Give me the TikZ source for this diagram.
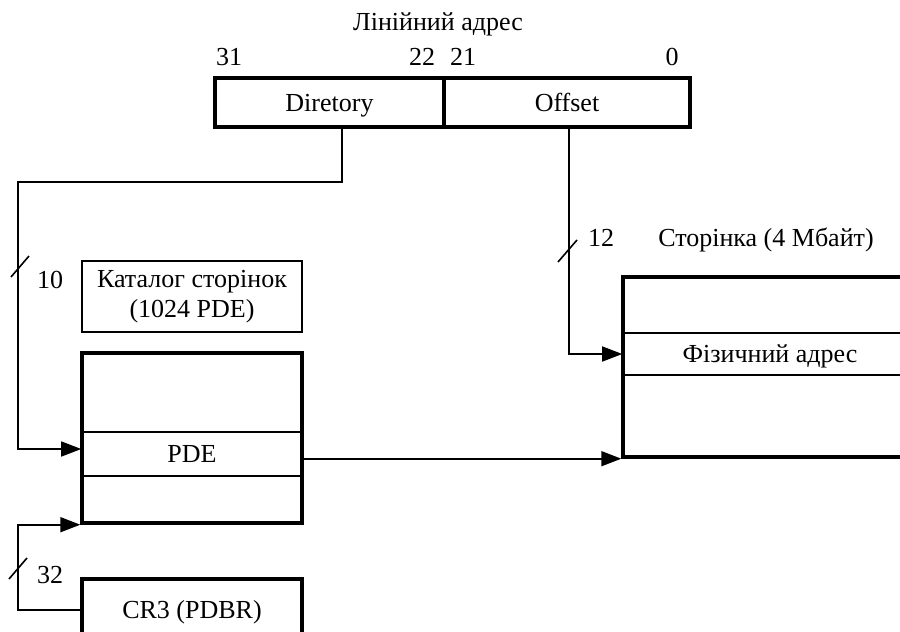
\documentclass[tikz,border=0pt]{standalone}
\usepackage{fontspec}
\setmainfont{Liberation Serif}
\usetikzlibrary{arrows.meta}
\begin{document}
\begin{tikzpicture}[x=0.5pt,y=-0.5pt,
  font=\fontsize{13pt}{15pt}\selectfont,
  heavy/.style={line width=1.7pt},
  light/.style={line width=0.8pt},
  cell/.style={draw, inner sep=0pt, text height=8.6pt, text depth=0pt},
  conn/.style={light},
  arr/.style={light, -{Triangle[length=10pt,width=7.5pt]}},
  slash/.style={light},
  lbl/.style={anchor=base, inner sep=0pt}]
\useasboundingbox (0,0) rectangle (900,632);
\clip (0,0) rectangle (900,632);

% linear address fields
\node[lbl] (title) at (438,30) {Лінійний адрес};
\node[lbl] (b31) at (229,65) {31};
\node[lbl] (b22) at (422,65) {22};
\node[lbl] (b21) at (463,65) {21};
\node[lbl] (b0)  at (672,65) {0};
\node[cell, heavy, minimum width=114.5pt, minimum height=24.5pt] (dir) at (329.5,102.5) {Diretory};
\node[cell, heavy, minimum width=123pt, minimum height=24.5pt] (off) at (567,102.5) {Offset};
\coordinate (dtap) at (342,127);
\coordinate (otap) at (569,127);

% page directory
\node[draw, light, align=center, inner sep=0pt, minimum width=110pt, minimum height=35.5pt]
  (cat) at (192,296.5) {Каталог сторінок\\(1024 PDE)};
\node[cell, light, minimum width=110pt, minimum height=22pt] (pde) at (192,454) {PDE};
\node[draw, heavy, inner sep=0pt, minimum width=110pt, minimum height=85pt] (dirtab) at (192,438) {};

% page
\node[lbl] (ptitle) at (766,246) {Сторінка (4 Мбайт)};
\node[cell, light, minimum width=147pt, minimum height=21pt] (phys) at (770,354) {Фізичний адрес};
\node[draw, heavy, inner sep=0pt, minimum width=147pt, minimum height=90pt] (page) at (770,367) {};

% control register
\node[cell, heavy, minimum width=110pt, minimum height=31pt] (cr3) at (192,610) {CR3 (PDBR)};

% connectors
\coordinate (bendA) at (18,182);
\draw[arr] (dtap) |- (bendA) |- ([yshift=2.5pt]pde.west);
\draw[arr] (otap) |- (phys.west);
\draw[arr] (pde.east |- page.south west) -- (page.south west);
\draw[arr] (cr3.west) -| (bendA |- dirtab.south west) -- (dirtab.south west);

% bus width marks
\draw[slash] (11,277) -- (29,256);
\draw[slash] (9,579) -- (27,558);
\draw[slash] (558,262) -- (577,240);
\node[lbl] (w10) at (50,288) {10};
\node[lbl] (w32) at (50,583) {32};
\node[lbl] (w12) at (601,246) {12};
\end{tikzpicture}
\end{document}
